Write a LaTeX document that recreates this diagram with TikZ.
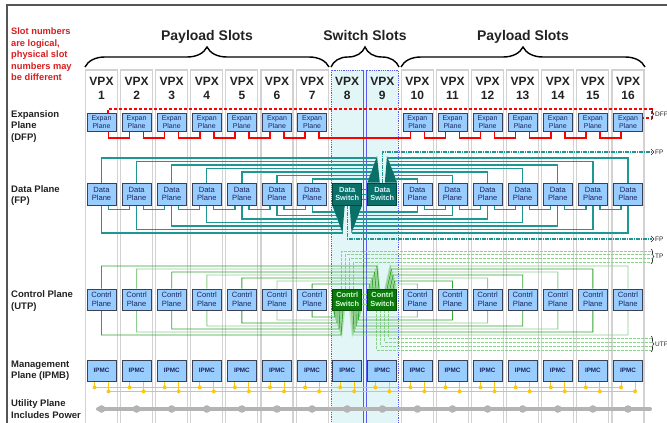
\documentclass[tikz,border=0pt]{standalone}
\usepackage{fontspec}
\setmainfont{Liberation Sans}
\usetikzlibrary{decorations.pathreplacing}
\pgfdeclarelayer{slots}
\pgfdeclarelayer{wires}
\pgfsetlayers{slots,wires,main}
\definecolor{frameColor}{RGB}{85,85,85}
\definecolor{slotColor}{RGB}{210,210,210}
\definecolor{swSlotFill}{RGB}{226,245,247}
\definecolor{swSlotLine}{RGB}{90,90,240}
\definecolor{boxFill}{RGB}{153,204,255}
\definecolor{boxLine}{RGB}{60,64,84}
\definecolor{boxText}{RGB}{25,40,95}
\definecolor{noteRed}{RGB}{214,30,30}
\definecolor{dfpRed}{RGB}{255,0,0}
\definecolor{fpTeal}{RGB}{30,150,145}
\definecolor{fpDark}{RGB}{10,112,104}
\definecolor{utpGreen}{RGB}{50,165,50}
\definecolor{utpLight}{RGB}{140,210,140}
\definecolor{utpDark}{RGB}{10,120,10}
\definecolor{ipmbYellow}{RGB}{250,200,20}
\definecolor{powerGray}{RGB}{180,180,180}
\definecolor{labelColor}{RGB}{34,34,34}
\begin{document}
\begin{tikzpicture}[x=1pt,y=-1pt,
  planebox/.style={draw=boxLine,fill=boxFill,line width=0.8pt,minimum width=29pt,inner sep=0pt,
    align=center,text=boxText,font=\fontsize{7.6}{8.6}\selectfont},
  fpswitch/.style={planebox,minimum height=22pt,fill=fpDark,draw=fpDark!60!black,text=white!85!cyan,
    font=\bfseries\fontsize{7.4}{8.6}\selectfont},
  utpswitch/.style={planebox,minimum height=21pt,fill=utpDark,draw=utpDark!60!black,text=white!85!green,
    font=\bfseries\fontsize{7.4}{8.6}\selectfont},
  slotbox/.style={draw=slotColor,line width=1.1pt},
  sidelabel/.style={anchor=north west,inner sep=0pt,align=left,text=labelColor,
    font=\bfseries\fontsize{9.5}{11.5}\selectfont},
  header/.style={anchor=base,inner sep=0pt,text=labelColor,font=\bfseries\fontsize{14}{16}\selectfont},
  vpxlabel/.style={anchor=base,inner sep=0pt,text=labelColor,font=\bfseries\fontsize{12}{14}\selectfont},
  slotbrace/.style={decorate,decoration={brace,amplitude=20pt,aspect=0.5},line width=1.4pt},
  tagbrace/.style={decorate,decoration={brace,amplitude=3pt},line width=0.6pt,draw=labelColor},
  taglabel/.style={anchor=west,inner sep=0pt,text=labelColor,font=\fontsize{6.5}{7}\selectfont},
  dfplink/.style={draw=dfpRed,line width=1.5pt},
  dfpdash/.style={draw=dfpRed,line width=1.5pt,dash pattern=on 3pt off 2pt},
  fpline/.style={draw=fpTeal,line width=1.2pt},
  fpdash/.style={draw=fpTeal,line width=1.2pt,dash pattern=on 4pt off 1pt on 1pt off 1pt},
  utpdash/.style={draw=utpLight,line width=0.9pt,dash pattern=on 3pt off 1pt},
  ipmbline/.style={draw=ipmbYellow,line width=1pt},
  powerline/.style={draw=powerGray,line width=4pt,line cap=round},
]
\useasboundingbox (0,0) rectangle (667,423);

\begin{pgfonlayer}{slots}
\foreach \i in {1,2,3,4,5,6,7,10,11,12,13,14,15,16}{
  \pgfmathsetmacro\cx{101.5+35.1*(\i-1)}
  \draw[slotbox] (\cx-16,70) rectangle (\cx+16,430);
}
\fill[swSlotFill] (331.2,70) rectangle (398.3,430);
\draw[swSlotLine,densely dotted,line width=0.8pt] (331.2,70) rectangle (363.4,430) (366,70) rectangle (398.3,430);
\draw[swSlotLine,line width=0.8pt] (363.4,70) -- (363.4,430) (366,70) -- (366,430);
\draw[frameColor,line width=1.8pt] (7,430) -- (7,5) -- (670,5);
\end{pgfonlayer}

\node[sidelabel,text=noteRed,font=\bfseries\fontsize{9.3}{11.5}\selectfont] (note) at (11,28)
  {Slot numbers\\are logical,\\physical slot\\numbers may\\be different};
\node[sidelabel] (lblDFP) at (11,110) {Expansion\\Plane\\(DFP)};
\node[sidelabel] (lblFP) at (11,185) {Data Plane\\(FP)};
\node[sidelabel] (lblUTP) at (11,290.5) {Control Plane\\(UTP)};
\node[sidelabel] (lblIPMB) at (11,360.5) {Management\\Plane (IPMB)};
\node[sidelabel] (lblPower) at (11,399.5) {Utility Plane\\Includes Power};

\node[header] (payloadL) at (207,40) {Payload Slots};
\node[header] (switchS) at (365,40) {Switch Slots};
\node[header] (payloadR) at (523,40) {Payload Slots};
\draw[slotbrace] (85,67) -- (329,67);
\draw[slotbrace] (331,67) -- (399,67);
\draw[slotbrace] (401,67) -- (645,67);

\foreach \i in {1,...,16}{
  \pgfmathsetmacro\cx{101.5+35.1*(\i-1)}
  \node[vpxlabel] (vpx\i) at (\cx,85) {VPX};
  \node[vpxlabel] (num\i) at (\cx,99) {\i};
  \node[planebox,minimum height=21pt,font=\bfseries\fontsize{6.3}{7}\selectfont] (ipmc\i) at (\cx,370.5) {IPMC};
}
\foreach \i in {1,2,3,4,5,6,7,10,11,12,13,14,15,16}{
  \pgfmathsetmacro\cx{101.5+35.1*(\i-1)}
  \node[planebox,minimum height=18.5pt,font=\fontsize{7}{8.2}\selectfont] (ep\i) at (\cx,122.5) {Expan\\Plane};
  \node[planebox,minimum height=22pt] (dp\i) at (\cx,194) {Data\\Plane};
  \node[planebox,minimum height=21pt] (cp\i) at (\cx,299.5) {Contrl\\Plane};
}
\node[fpswitch] (ds8) at (347.2,194) {Data\\Switch};
\node[fpswitch] (ds9) at (382.3,194) {Data\\Switch};
\node[utpswitch] (cs8) at (347.2,299.5) {Contrl\\Switch};
\node[utpswitch] (cs9) at (382.3,299.5) {Contrl\\Switch};

\coordinate (dfpCorner) at (652,109);
\coordinate (fpOutTop) at (652,152);
\coordinate (fpOutBot) at (652,239);
\coordinate (pwrStart) at (98,409);
\coordinate (pwrEnd) at (650,409);

\draw[tagbrace] (651,108) -- (651,120);
\node[taglabel] (tagDFP) at (655,114) {DFP};
\draw[tagbrace] (651,149) -- (651,155);
\node[taglabel] (tagFPa) at (655,152) {FP};
\draw[tagbrace] (651,236) -- (651,242);
\node[taglabel] (tagFPb) at (655,239) {FP};
\draw[tagbrace] (651,249) -- (651,264);
\node[taglabel] (tagTP) at (655,256.5) {TP};
\draw[tagbrace] (651,336) -- (651,352);
\node[taglabel] (tagUTP) at (655,344) {UTP};

\begin{pgfonlayer}{wires}
\draw[dfpdash] ([xshift=6.5pt]ep1.north) |- (dfpCorner) |- ([yshift=4.5pt]ep16.east);
\foreach \i/\j in {1/2,2/3,3/4,4/5,5/6,6/7,7/10,10/11,11/12,12/13,13/14,14/15,15/16}
  \draw[dfplink] ([xshift=7pt]ep\i.south) -- ++(0,6) -| ([xshift=-7pt]ep\j.south);

\fill[fpDark] (377,156) -- (ds9.north west) -- ([xshift=-2.5pt]ds9.north) -- cycle;
\fill[fpDark] (387,156) -- (ds9.north east) -- ([xshift=2.5pt]ds9.north) -- cycle;
\fill[fpDark] (342.5,233) -- (ds8.south west) -- ([xshift=-2.5pt]ds8.south) -- cycle;
\fill[fpDark] (351.5,233) -- (ds8.south east) -- ([xshift=2.5pt]ds8.south) -- cycle;
\draw[fpdash] (ds9.north) |- (fpOutTop);
\draw[fpdash] (ds8.south) |- (fpOutBot);
\foreach \i in {1,...,7}{
  \pgfmathsetmacro\yy{158+3.5*(\i-1)}
  \pgfmathsetmacro\xx{377-(\yy-156)*0.34}
  \draw[fpline] (dp\i.north) |- (\xx,\yy);
  \pgfmathsetmacro\yy{233-3.5*(\i-1)}
  \pgfmathsetmacro\xx{332.7+(\yy-205)*0.35}
  \draw[fpline] (dp\i.south) |- (\xx,\yy);
}
\foreach \i in {10,...,16}{
  \pgfmathsetmacro\yy{179-3.5*(\i-10)}
  \pgfmathsetmacro\xx{387+(\yy-156)*0.363}
  \draw[fpline] (dp\i.north) |- (\xx,\yy);
  \pgfmathsetmacro\yy{212+3.5*(\i-10)}
  \pgfmathsetmacro\xx{361.7-(\yy-205)*0.364}
  \draw[fpline] (dp\i.south) |- (\xx,\yy);
}
\foreach \i/\j in {1/2,2/3,3/4,4/5,5/6,6/7,10/11,11/12,12/13,13/14,14/15,15/16}
  \draw[fpline] ([xshift=7pt]dp\i.south) -- ++(0,4) -| ([xshift=-7pt]dp\j.south);
\foreach \d in {-5,0,5}
  \draw[fpline,line width=0.8pt] ([yshift=\d pt]ds8.east) -- ([yshift=\d pt]ds9.west);

\fill[utpLight!60] (378,263) -- (cs9.north west) -- ([xshift=-2pt]cs9.north) -- cycle;
\fill[utpLight!60] (390,263) -- (cs9.north east) -- ([xshift=2pt]cs9.north) -- cycle;
\fill[utpLight!60] (342,338) -- (cs8.south west) -- ([xshift=-2pt]cs8.south) -- cycle;
\fill[utpLight!60] (352,338) -- (cs8.south east) -- ([xshift=2pt]cs8.south) -- cycle;
\foreach \k in {0,...,3}{
  \pgfmathsetmacro\yy{262-3.6*\k}
  \pgfmathsetmacro\dx{6-4*\k}
  \coordinate (tpOut\k) at (652,\yy);
  \draw[utpdash] ([xshift=\dx pt]cs8.north) |- (tpOut\k);
  \pgfmathsetmacro\yy{338+4*\k}
  \pgfmathsetmacro\dx{6-4*\k}
  \coordinate (utpOut\k) at (652,\yy);
  \draw[utpdash] ([xshift=\dx pt]cs9.south) |- (utpOut\k);
}
\foreach \i in {1,...,7}{
  \pgfmathtruncatemacro\shade{mod(\i,2)==0 ? 55 : 100}
  \pgfmathsetmacro\yy{266+3*(\i-1)}
  \pgfmathsetmacro\xx{378-(\yy-263)*0.392}
  \pgfmathsetmacro\xb{379-1.5*(\i-1)}
  \draw[draw=utpGreen!\shade!white,line width=0.9pt] (cp\i.north) |- (\xx,\yy) -- (\xb,289);
  \pgfmathsetmacro\yy{335-3*(\i-1)}
  \pgfmathsetmacro\xx{332.7+(\yy-310)*0.332}
  \pgfmathsetmacro\xb{343-1.5*(\i-1)}
  \draw[draw=utpGreen!\shade!white,line width=0.9pt] (cp\i.south) |- (\xx,\yy) -- (\xb,310);
}
\foreach \i in {10,...,16}{
  \pgfmathtruncatemacro\shade{mod(\i,2)==0 ? 55 : 100}
  \pgfmathsetmacro\yy{284-3*(\i-10)}
  \pgfmathsetmacro\xx{390+(\yy-263)*0.26}
  \pgfmathsetmacro\xb{385.5+1.5*(16-\i)}
  \draw[draw=utpGreen!\shade!white,line width=0.9pt] (cp\i.north) |- (\xx,\yy) -- (\xb,289);
  \pgfmathsetmacro\yy{317+3*(\i-10)}
  \pgfmathsetmacro\xx{361.7-(\yy-310)*0.346}
  \pgfmathsetmacro\xb{360.5-1.5*(\i-10)}
  \draw[draw=utpGreen!\shade!white,line width=0.9pt] (cp\i.south) |- (\xx,\yy) -- (\xb,310);
}
\foreach \d in {-5,0,5}
  \draw[utpLight,line width=0.8pt] ([yshift=\d pt]cs8.east) -- ([yshift=\d pt]cs9.west);

\draw[ipmbline] ([xshift=-7pt,yshift=-6pt]ipmc1.south) -- ([xshift=-7pt,yshift=-6pt]ipmc16.south);
\draw[ipmbline] ([xshift=7pt,yshift=-10pt]ipmc1.south) -- ([xshift=7pt,yshift=-10pt]ipmc16.south);
\draw[powerline] (pwrStart) -- (pwrEnd);
\foreach \i in {1,...,16}{
  \pgfmathsetmacro\cx{101.5+35.1*(\i-1)}
  \draw[ipmbline] ([xshift=-7pt]ipmc\i.south) -- ++(0,6);
  \fill[ipmbYellow] ([xshift=-7pt,yshift=-6pt]ipmc\i.south) circle (2pt);
  \draw[ipmbline] ([xshift=7pt]ipmc\i.south) -- ++(0,10);
  \fill[ipmbYellow] ([xshift=7pt,yshift=-10pt]ipmc\i.south) circle (2pt);
  \fill[powerGray] (\cx,409) circle (3.8pt);
}
\end{pgfonlayer}
\end{tikzpicture}
\end{document}
